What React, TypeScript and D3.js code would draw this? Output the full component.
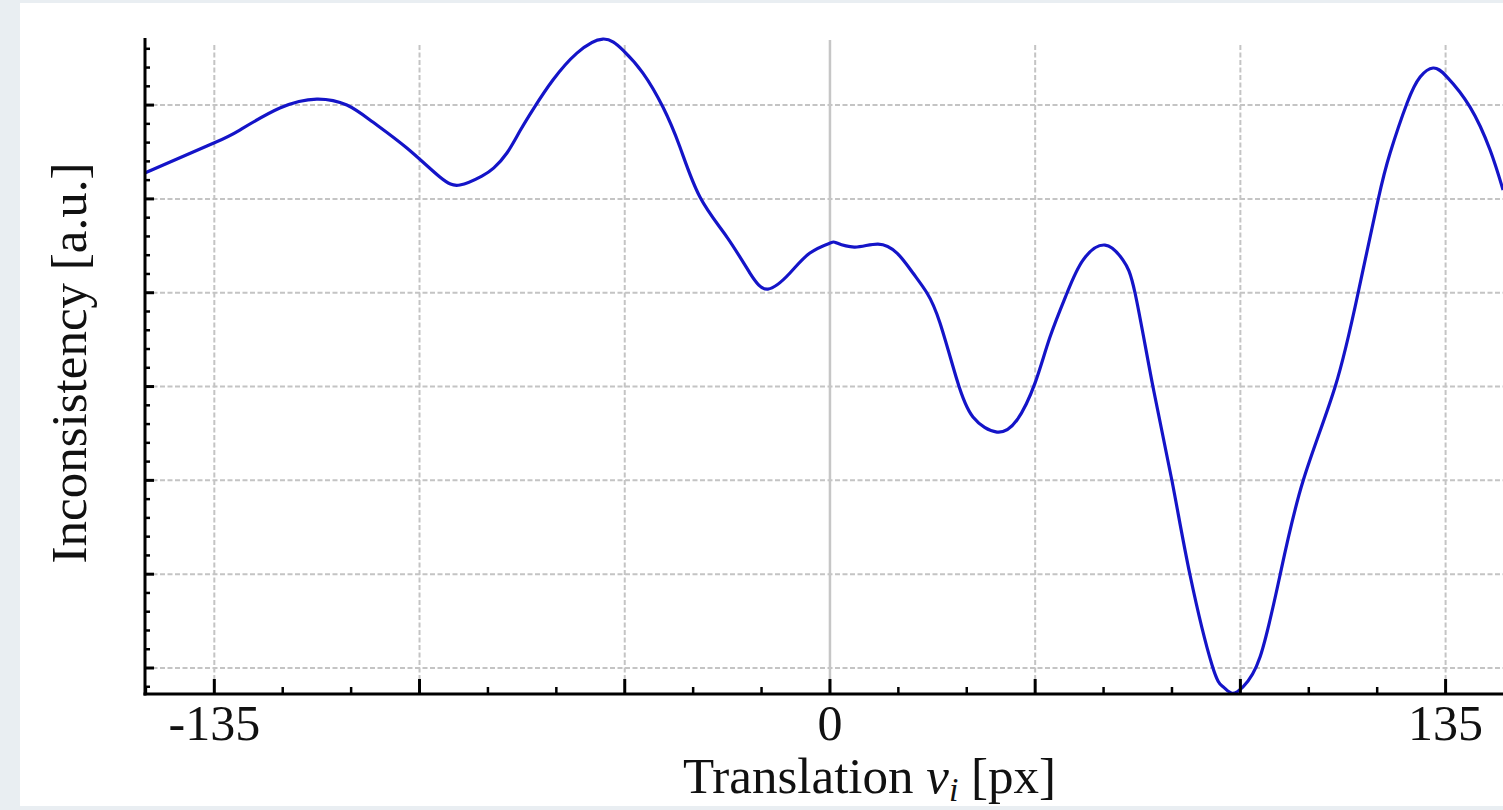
import React from "react";
import * as d3 from "d3";

// Translation (px) and inconsistency (a.u., gridline units)
const translation = [
  -150.24, -135.11, -129.41, -120.63, -112.52, -105.94, -100.24, -92.78, -85.54, -81.15,
  -76.33, -73.7, -70.84, -67.99, -64.92, -60.75, -55.49, -49.79, -45.4, -41.01,
  -36.63, -32.9, -28.51, -22.59, -17.55, -13.6, -8.77, -4.39, 0, 1.54,
  5.48, 10.53, 14.7, 18.2, 21.28, 24.13, 27.86, 31.36, 36.63, 41.01,
  44.96, 48.25, 51.98, 55.49, 60.32, 64.26, 66.9, 70.84, 75.01, 78.96,
  83.78, 86.2, 88.16, 90.58, 94.31, 98.7, 103.74, 110.76, 115.81, 120.19,
  122.83, 126.56, 129.41, 132.26, 135.33, 140.37, 144.76, 147.61,
];
const inconsistency = [
  5.276, 5.595, 5.734, 5.968, 6.064, 6.0, 5.819, 5.542, 5.233, 5.148,
  5.243, 5.33, 5.489, 5.723, 5.968, 6.267, 6.554, 6.704, 6.586, 6.341,
  5.979, 5.553, 5.02, 4.593, 4.21, 4.039, 4.21, 4.423, 4.529, 4.529,
  4.487, 4.519, 4.423, 4.21, 3.997, 3.677, 3.069, 2.675, 2.515, 2.643,
  3.037, 3.528, 3.997, 4.348, 4.508, 4.348, 3.997, 2.995, 1.993, 0.991,
  0.032, -0.2, -0.27, -0.2, 0.117, 0.991, 1.993, 2.995, 3.997, 4.988,
  5.489, 6.022, 6.299, 6.395, 6.299, 5.979, 5.521, 5.094,
];
const xMajorTicks = [-135, -90, -45, 0, 45, 90, 135];
const xTickLabels = ["-135", "0", "135"];
const xLabeledTicks = [-135, 0, 135];
const yMajorTicks = [0, 1, 2, 3, 4, 5, 6];

const W = 1503;
const H = 810;
const serif = "'Liberation Serif', 'DejaVu Serif', serif";

export default function App() {
  const x = d3.scaleLinear().domain([-150.2, 150]).range([145, 1514]);
  const y = d3.scaleLinear().domain([-0.277, 6.715]).range([694, 38]);
  const pts: [number, number][] = translation.map((t, i) => [t, inconsistency[i]]);
  const line = d3
    .line<[number, number]>()
    .x((d) => x(d[0]))
    .y((d) => y(d[1]))
    .curve(d3.curveNatural);

  const xMinor = d3.range(-150, 151, 15).filter((v) => v % 45 !== 0);
  const yMinor = d3
    .range(-1, 34)
    .map((k) => k * 0.2)
    .filter((v) => Math.abs(v - Math.round(v)) > 0.01 && v > -0.277 && v < 6.715);

  React.useEffect(() => {
    document.body.style.margin = "0";
    document.documentElement.style.overflow = "hidden";
  }, []);

  const x0 = x.range()[0];
  const yBottom = y.range()[0];
  const yTop = y.range()[1];

  return (
    <svg width={W} height={H} style={{ position: "absolute", left: 0, top: 0, display: "block" }}>
      <rect x={0} y={0} width={W} height={H} fill="#e9eef2" />
      <rect x={20} y={3} width={W - 20} height={803} fill="#ffffff" />

      {/* horizontal gridlines */}
      {yMajorTicks.map((v) => (
        <line key={"hg" + v} x1={x0} x2={W} y1={y(v)} y2={y(v)} stroke="#c4c4c4" strokeWidth={2} strokeDasharray="5 2.5" />
      ))}
      {/* vertical gridlines */}
      {xMajorTicks.map((v) =>
        v === 0 ? (
          <line key={"vg" + v} x1={x(v)} x2={x(v)} y1={40} y2={yBottom} stroke="#c6c6c6" strokeWidth={2.5} />
        ) : (
          <line key={"vg" + v} x1={x(v)} x2={x(v)} y1={45} y2={yBottom} stroke="#c4c4c4" strokeWidth={2} strokeDasharray="5 2.5" />
        )
      )}

      {/* data curve */}
      <path d={line(pts) || ""} fill="none" stroke="#1414c8" strokeWidth={3.2} strokeLinejoin="round" />

      {/* axes */}
      <line x1={x0} x2={x0} y1={yTop} y2={yBottom + 1.5} stroke="#000" strokeWidth={3} />
      <line x1={x0 - 1.5} x2={W} y1={yBottom} y2={yBottom} stroke="#000" strokeWidth={3} />

      {/* y ticks */}
      {yMajorTicks.map((v) => (
        <line key={"yt" + v} x1={x0} x2={x0 + 9} y1={y(v)} y2={y(v)} stroke="#000" strokeWidth={3} />
      ))}
      {yMinor.map((v, i) => (
        <line key={"ym" + i} x1={x0} x2={x0 + 5} y1={y(v)} y2={y(v)} stroke="#000" strokeWidth={2.5} />
      ))}

      {/* x ticks */}
      {xMajorTicks.map((v) => (
        <line key={"xt" + v} x1={x(v)} x2={x(v)} y1={yBottom} y2={yBottom - 15} stroke="#000" strokeWidth={3} />
      ))}
      {xMinor.map((v) => (
        <line key={"xm" + v} x1={x(v)} x2={x(v)} y1={yBottom} y2={yBottom - 7} stroke="#000" strokeWidth={2.5} />
      ))}

      {/* tick labels */}
      {xLabeledTicks.map((v, i) => (
        <text key={"xl" + v} x={x(v)} y={740} textAnchor="middle" fontFamily={serif} fontSize={50} fill="#111">
          {xTickLabels[i]}
        </text>
      ))}

      {/* axis labels */}
      <text x={683} y={793} fontFamily={serif} fontSize={51} fill="#111">
        Translation{" "}
        <tspan fontStyle="italic">v</tspan>
        <tspan fontStyle="italic" fontSize={34} dy={8}>i</tspan>
        <tspan dy={-8}> [px]</tspan>
      </text>
      <text
        transform="translate(86,363) rotate(-90)"
        textAnchor="middle"
        fontFamily={serif}
        fontSize={51}
        fill="#111"
      >
        Inconsistency [a.u.]
      </text>
    </svg>
  );
}
